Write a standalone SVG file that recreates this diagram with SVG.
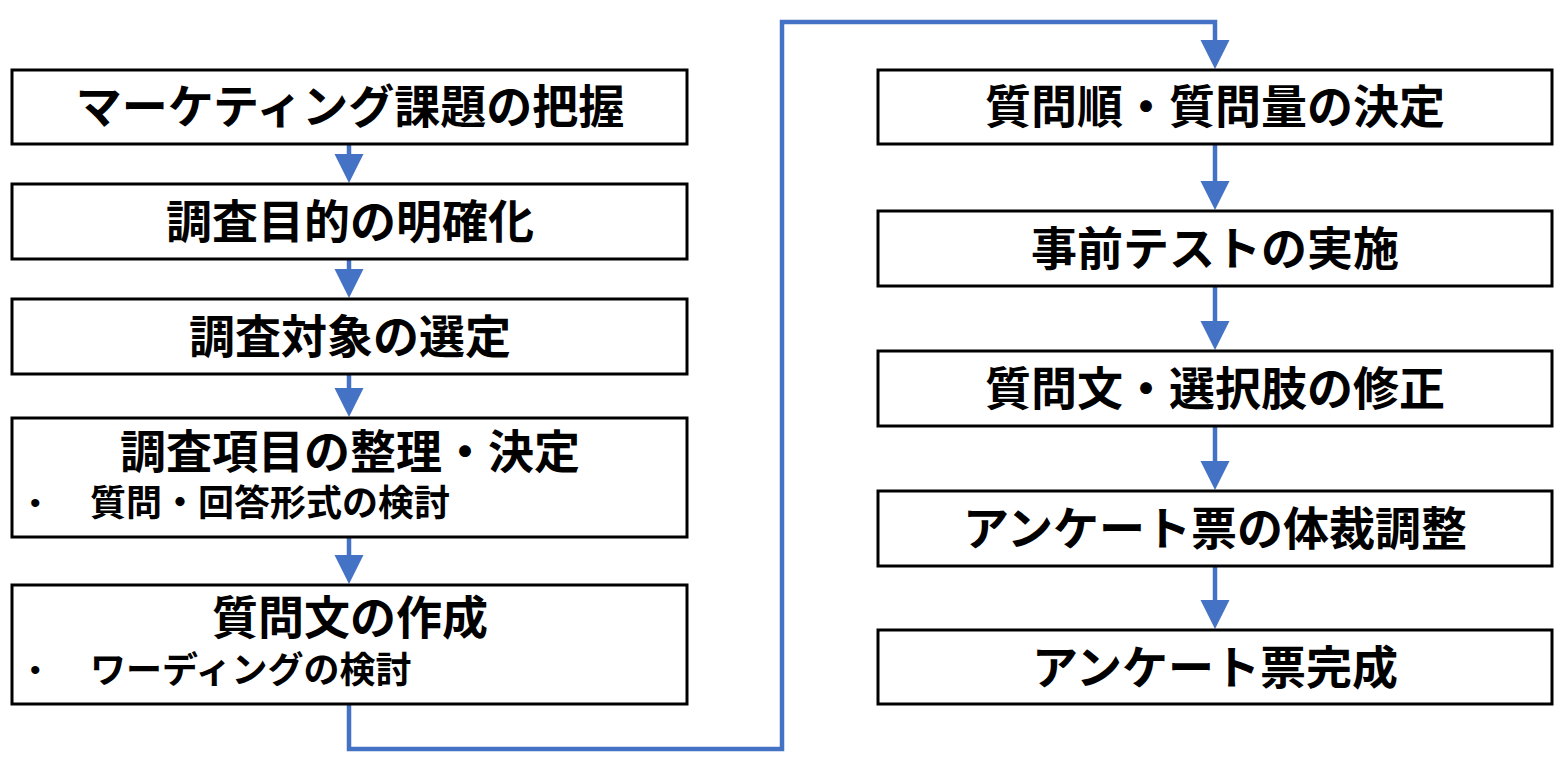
<svg xmlns="http://www.w3.org/2000/svg" width="1568" height="771" viewBox="0 0 1568 771">
<style>
.box{fill:#fff;stroke:#000;stroke-width:3}
.t{font-family:"Noto Sans CJK JP","Noto Sans CJK SC",sans-serif;font-weight:700;font-size:46px;fill:#000;text-anchor:middle}
.s{font-family:"Noto Sans CJK JP","Noto Sans CJK SC",sans-serif;font-weight:700;font-size:36px;fill:#000}
.b{font-family:"Liberation Sans",sans-serif;font-size:30px;fill:#000}
.c{fill:none;stroke:#4472C4;stroke-width:4.5}
</style>
<defs>
<marker id="ah" markerUnits="userSpaceOnUse" markerWidth="30" markerHeight="30" viewBox="0 0 30 30" refX="14" refY="14.5" orient="auto">
<path d="M0,0 L29,14.5 L0,29 Z" fill="#4472C4"/>
</marker>
</defs>
<g id="connectors">
<path class="c" d="M349,144 V168" marker-end="url(#ah)"/>
<path class="c" d="M349,259 V283" marker-end="url(#ah)"/>
<path class="c" d="M349,374 V402" marker-end="url(#ah)"/>
<path class="c" d="M349,537 V569" marker-end="url(#ah)"/>
<path class="c" d="M349,704 V749 H782 V22 H1215 V54" marker-end="url(#ah)"/>
<path class="c" d="M1215,144 V195" marker-end="url(#ah)"/>
<path class="c" d="M1215,286 V335" marker-end="url(#ah)"/>
<path class="c" d="M1215,426 V475" marker-end="url(#ah)"/>
<path class="c" d="M1215,566 V614" marker-end="url(#ah)"/>
</g>
<g id="n1"><rect class="box" x="12" y="70" width="675" height="74"/><text class="t" x="350" y="123">マーケティング課題の把握</text></g>
<g id="n2"><rect class="box" x="12" y="184" width="675" height="75"/><text class="t" x="350" y="238">調査目的の明確化</text></g>
<g id="n3"><rect class="box" x="12" y="299" width="675" height="75"/><text class="t" x="350" y="353">調査対象の選定</text></g>
<g id="n4"><rect class="box" x="12" y="418" width="675" height="119"/><text class="t" x="350" y="468">調査項目の整理・決定</text><text class="b" x="30" y="513">•</text><text class="s" x="90" y="516">質問・回答形式の検討</text></g>
<g id="n5"><rect class="box" x="12" y="585" width="675" height="119"/><text class="t" x="350" y="634">質問文の作成</text><text class="b" x="30" y="680">•</text><text class="s" x="90" y="683">ワーディングの検討</text></g>
<g id="n6"><rect class="box" x="878" y="70" width="674" height="74"/><text class="t" x="1215" y="123">質問順・質問量の決定</text></g>
<g id="n7"><rect class="box" x="878" y="211" width="674" height="75"/><text class="t" x="1215" y="265">事前テストの実施</text></g>
<g id="n8"><rect class="box" x="878" y="351" width="674" height="75"/><text class="t" x="1215" y="405">質問文・選択肢の修正</text></g>
<g id="n9"><rect class="box" x="878" y="491" width="674" height="75"/><text class="t" x="1215" y="545">アンケート票の体裁調整</text></g>
<g id="n10"><rect class="box" x="878" y="630" width="674" height="74"/><text class="t" x="1215" y="684">アンケート票完成</text></g>
</svg>
